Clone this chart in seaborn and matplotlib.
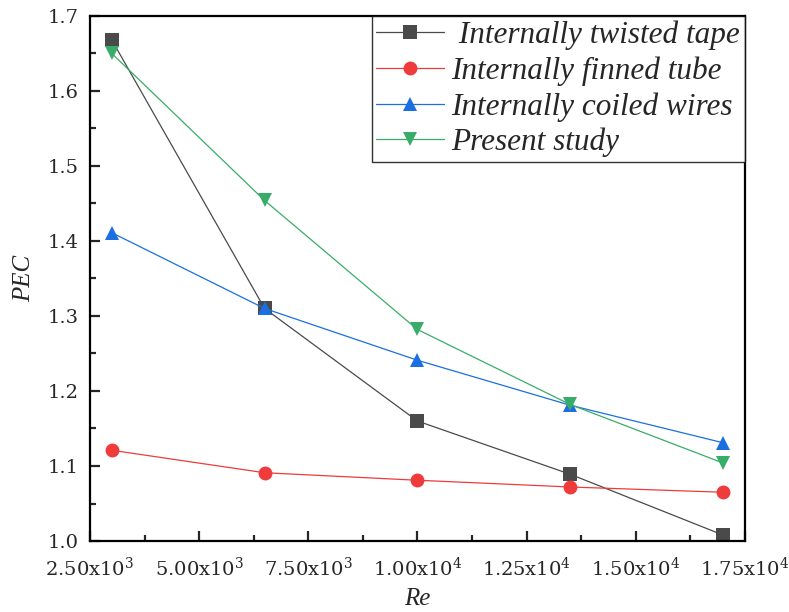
import matplotlib
matplotlib.use("Agg")
import matplotlib.pyplot as plt
import seaborn as sns
import pandas as pd
from matplotlib.ticker import MultipleLocator, FuncFormatter

# Reynolds numbers and PEC for each enhancement technique
re_values = [3000, 6500, 10000, 13500, 17000]
twisted_tape = [1.668, 1.310, 1.160, 1.089, 1.008]
finned_tube = [1.121, 1.091, 1.081, 1.072, 1.065]
coiled_wires = [1.411, 1.310, 1.241, 1.181, 1.131]
present_study = [1.650, 1.454, 1.282, 1.182, 1.104]

series_names = [" Internally twisted tape", "Internally finned tube",
                "Internally coiled wires", "Present study"]
series_values = [twisted_tape, finned_tube, coiled_wires, present_study]
colors = ["#4a4a4a", "#ef3b3b", "#1b6fe0", "#38ad6a"]
markers = ["s", "o", "^", "v"]

df = pd.concat(
    [pd.DataFrame({"Re": re_values, "PEC": v, "Series": n})
     for n, v in zip(series_names, series_values)],
    ignore_index=True,
)

sns.set_style("ticks")
plt.rcParams["font.family"] = ["Liberation Serif", "DejaVu Serif"]
plt.rcParams["mathtext.fontset"] = "dejavuserif"
plt.rcParams["mathtext.default"] = "rm"

fig = plt.figure(figsize=(7.89, 6.12), dpi=100)
ax = fig.add_axes([0.114, 0.116, 0.830, 0.858])

sns.lineplot(
    data=df, x="Re", y="PEC", hue="Series", style="Series",
    palette=dict(zip(series_names, colors)),
    markers=dict(zip(series_names, markers)),
    dashes=False, linewidth=0.9, markersize=10, markeredgewidth=0,
    ax=ax,
)

ax.set_xlim(2500, 17500)
ax.set_ylim(1.0, 1.7)
ax.xaxis.set_major_locator(MultipleLocator(2500))
ax.xaxis.set_minor_locator(MultipleLocator(1250))
ax.yaxis.set_major_locator(MultipleLocator(0.1))
ax.yaxis.set_minor_locator(MultipleLocator(0.05))


def sci_fmt(x, pos):
    exp = len(str(int(round(x)))) - 1
    mant = x / 10 ** exp
    return f"{mant:.2f}x10$^{{{exp}}}$"


ax.xaxis.set_major_formatter(FuncFormatter(sci_fmt))
ax.yaxis.set_major_formatter(FuncFormatter(lambda y, p: f"{y:.1f}"))

for side in ["left", "bottom", "top", "right"]:
    ax.spines[side].set_linewidth(1.6)
    ax.spines[side].set_color("black")

ax.tick_params(axis="both", which="major", direction="in", length=7, width=1.6,
               labelsize=14, labelfontfamily="DejaVu Serif",
               top=False, right=False)
ax.tick_params(axis="x", which="major", pad=11)
ax.tick_params(axis="y", which="major", pad=8)
ax.tick_params(axis="both", which="minor", direction="in", length=4, width=1.6,
               top=False, right=False)

ax.set_xlabel("Re", fontsize=18, fontstyle="italic", labelpad=6)
ax.set_ylabel("PEC", fontsize=18, fontstyle="italic", labelpad=9)

leg = ax.legend(
    loc="upper right", bbox_to_anchor=(1.0, 1.0), frameon=True, fancybox=False,
    prop={"size": 22.5, "style": "italic"}, handlelength=2.15, borderpad=0.15,
    labelspacing=0.2, handletextpad=0.25, borderaxespad=0.0,
)
leg.get_frame().set_edgecolor("black")
leg.get_frame().set_linewidth(1.0)

fig.savefig("out.png", dpi=100)
